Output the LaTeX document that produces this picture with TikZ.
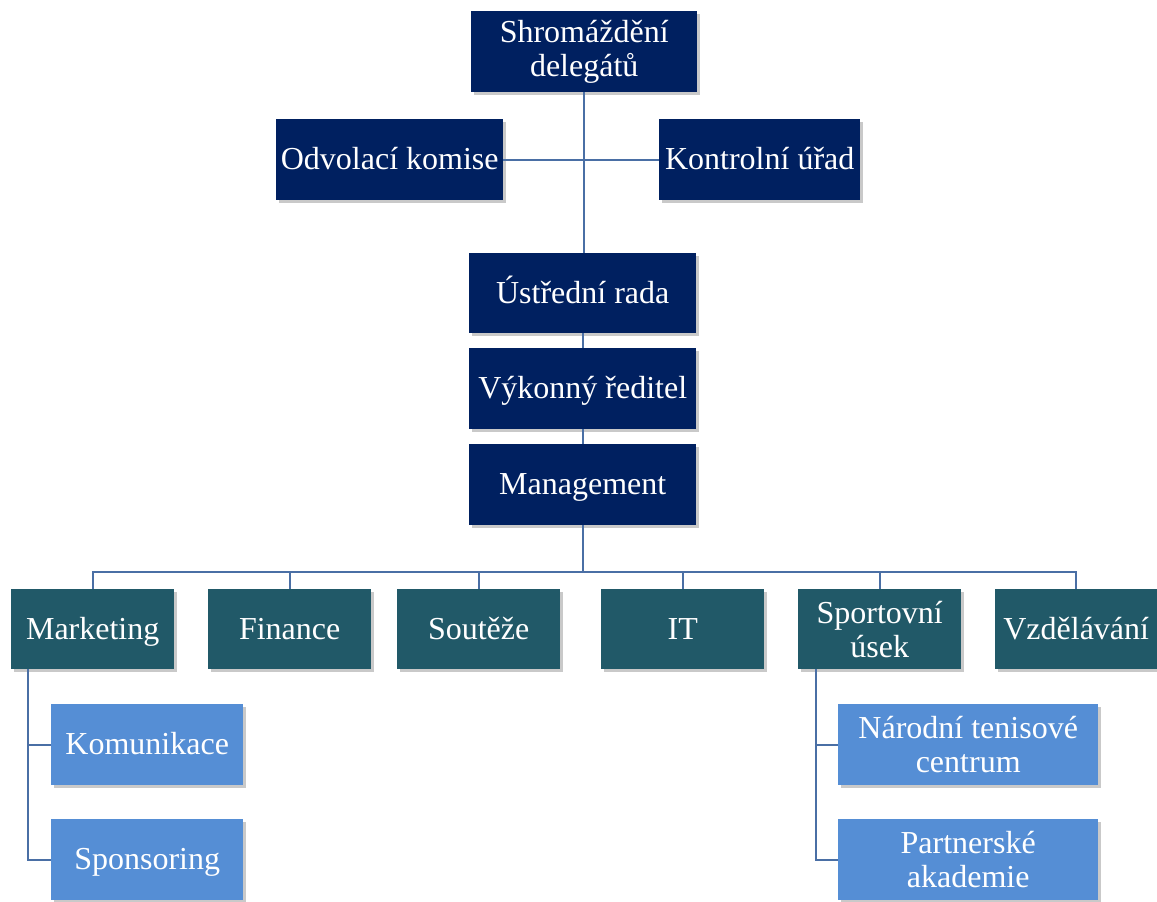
\documentclass[tikz,border=0pt]{standalone}
\usepackage{fontspec}
\setmainfont{Liberation Serif}
\usetikzlibrary{shadows,calc}
\definecolor{navy}{HTML}{002060}
\definecolor{teal2}{HTML}{215968}
\definecolor{lblue}{HTML}{558ED5}
\definecolor{conn}{HTML}{4A6FA5}
\begin{document}
\begin{tikzpicture}[x=1pt,y=-1pt,
  box/.style={rectangle, inner sep=0pt, align=center, text=white, anchor=north west,
    font=\fontsize{32}{34}\selectfont,
    drop shadow={shadow xshift=3pt,shadow yshift=-3pt,opacity=0.3,fill=black!70}},
  one/.style={text height=27pt, text depth=7pt},
  lvl1/.style={box, fill=navy},
  lvl2/.style={box, fill=teal2, minimum width=163pt, minimum height=80pt},
  lvl3/.style={box, fill=lblue, minimum height=81pt},
  link/.style={draw=conn, line width=2pt}]
\useasboundingbox (0,0) rectangle (1157,902);
% level 1
\node[lvl1, minimum width=226pt, minimum height=81pt] (shr) at (471,11) {Shromáždění\\delegátů};
\node[lvl1, one, minimum width=227pt, minimum height=81pt] (odv) at (276,119) {Odvolací komise};
\node[lvl1, one, minimum width=201pt, minimum height=81pt] (kon) at (659,119) {Kontrolní úřad};
\node[lvl1, one, minimum width=227pt, minimum height=80pt] (ust) at (469,253) {Ústřední rada};
\node[lvl1, one, minimum width=227pt, minimum height=81pt] (vyk) at (469,348) {Výkonný ředitel};
\node[lvl1, one, minimum width=227pt, minimum height=81pt] (mgm) at (469,444) {Management};
% level 2
\node[lvl2, one] (mkt) at (11,589) {Marketing};
\node[lvl2, one] (fin) at (208,589) {Finance};
\node[lvl2, one] (sou) at (397,589) {Soutěže};
\node[lvl2, one] (it) at (601,589) {IT};
\node[lvl2] (spu) at (798,589) {Sportovní\\úsek};
\node[lvl2, one, minimum width=162pt] (vzd) at (995,589) {Vzdělávání};
% level 3
\node[lvl3, one, minimum width=192pt] (kom) at (51,704) {Komunikace};
\node[lvl3, one, minimum width=192pt] (spo) at (51,819) {Sponsoring};
\node[lvl3, minimum width=260pt] (ntc) at (838,704) {Národní tenisové\\centrum};
\node[lvl3, minimum width=260pt] (pak) at (838,819) {Partnerské\\akademie};
% connectors
\coordinate (bus) at ($(mgm.south)+(0,47)$);
\coordinate (mstem) at ($(mkt.south west)+(17,0)$);
\coordinate (sstem) at ($(spu.south west)+(18,0)$);
\path[link] (shr.south) -- (shr.south |- ust.north);
\path[link] (odv.east) -- (kon.west);
\path[link] (ust.south) -- (vyk.north);
\path[link] (vyk.south) -- (mgm.north);
\path[link] (mgm.south) -- (bus);
\foreach \c in {mkt,fin,sou,it,spu,vzd} {\path[link] (bus) -| (\c.north);}
\path[link] (mstem) |- (kom.west);
\path[link] (mstem) |- (spo.west);
\path[link] (sstem) |- (ntc.west);
\path[link] (sstem) |- (pak.west);
\end{tikzpicture}
\end{document}
